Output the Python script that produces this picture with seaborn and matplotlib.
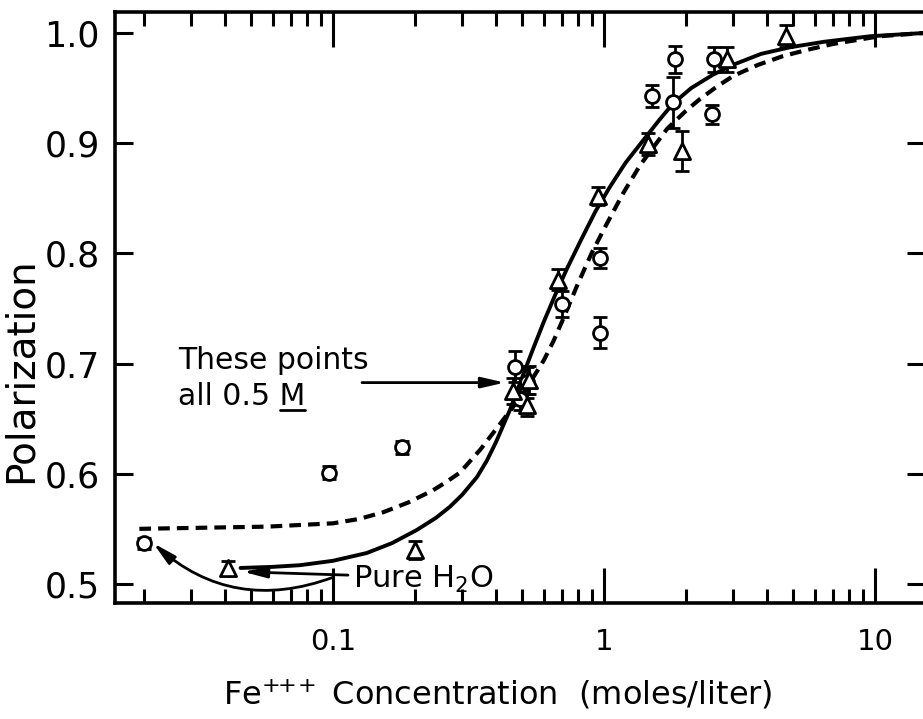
import numpy as np
import pandas as pd
import matplotlib
matplotlib.use("Agg")
import matplotlib.pyplot as plt
import seaborn as sns
from matplotlib.ticker import FixedLocator, FixedFormatter, LogLocator, NullFormatter
from matplotlib.lines import Line2D
from matplotlib.transforms import IdentityTransform

# ---------------- data ----------------
circ_x = [0.02, 0.097, 0.18, 0.47, 0.52, 0.49, 0.70, 0.97, 0.97, 1.50, 1.80, 1.83, 2.50, 2.55]
circ_y = [0.537, 0.601, 0.624, 0.697, 0.683, 0.668, 0.754, 0.728, 0.796, 0.943, 0.937, 0.976, 0.926, 0.976]
circ_e = [0.005, 0.006, 0.006, 0.014, 0.014, 0.010, 0.012, 0.014, 0.009, 0.010, 0.023, 0.012, 0.009, 0.011]

tri_x = [0.041, 0.20, 0.46, 0.53, 0.52, 0.676, 0.95, 1.45, 1.94, 2.84, 4.7]
tri_y = [0.5145, 0.531, 0.675, 0.685, 0.662, 0.776, 0.852, 0.899, 0.893, 0.976, 0.997]
tri_e = [0.006, 0.008, 0.012, 0.013, 0.010, 0.0095, 0.008, 0.010, 0.018, 0.011, 0.010]

solid_x = [0.0456, 0.06, 0.0755, 0.10, 0.133, 0.165, 0.204, 0.24, 0.27, 0.30, 0.34, 0.37,
           0.40, 0.45, 0.50, 0.547, 0.60, 0.66, 0.73, 0.83, 0.93, 1.05, 1.2, 1.39, 1.6,
           1.80, 2.1, 2.52, 2.99, 3.8, 4.86, 6.5, 9.6, 15.3]
solid_y = [0.5145, 0.5155, 0.517, 0.521, 0.528, 0.537, 0.549, 0.560, 0.570, 0.581, 0.597, 0.612,
           0.629, 0.658, 0.688, 0.713, 0.738, 0.762, 0.786, 0.814, 0.838, 0.860, 0.882, 0.902, 0.921,
           0.936, 0.950, 0.962, 0.971, 0.981, 0.987, 0.992, 0.997, 1.000]

dash_x = [0.0193, 0.0572, 0.10, 0.125, 0.153, 0.19, 0.234, 0.26, 0.294, 0.35, 0.413, 0.46,
          0.50, 0.55, 0.60, 0.65, 0.70, 0.80, 0.90, 1.0, 1.18, 1.36, 1.71, 2.0, 2.26, 2.6,
          3.0, 3.7, 4.58, 5.7, 7.0, 10.4, 15.3]
dash_y = [0.550, 0.552, 0.555, 0.559, 0.565, 0.574, 0.585, 0.592, 0.601, 0.622, 0.645, 0.660,
          0.672, 0.688, 0.703, 0.720, 0.738, 0.772, 0.800, 0.822, 0.855, 0.880, 0.913, 0.929, 0.940, 0.951,
          0.961, 0.971, 0.979, 0.985, 0.990, 0.997, 1.000]

x_ticks = [0.1, 1, 10]
x_tick_labels = ["0.1", "1", "10"]
y_ticks = [0.5, 0.6, 0.7, 0.8, 0.9, 1.0]
y_tick_labels = ["0.5", "0.6", "0.7", "0.8", "0.9", "1.0"]

x_label = r"Fe$^{+\!\!+\!\!+}$ Concentration  (moles/liter)"
y_label = "Polarization"

# ---------------- style ----------------
sns.set_theme(style="ticks")
plt.rcParams["font.family"] = ["DejaVu Sans"]
plt.rcParams["mathtext.default"] = "regular"

W, H = 923, 719
fig = plt.figure(figsize=(W / 100, H / 100), dpi=100)
fig.patch.set_facecolor("white")
ax = fig.add_axes([115 / W, 1 - 603 / H, 810 / W, 591 / H])
ax.set_facecolor("white")

ax.set_xscale("log")
ax.set_xlim(0.01569, 15.3)
ax.set_ylim(0.4827, 1.019)

# fitted curves
curves = pd.DataFrame({"x": solid_x, "y": solid_y})
sns.lineplot(data=curves, x="x", y="y", ax=ax, color="black", lw=2.8,
             estimator=None, sort=False, zorder=2)
dcurve = pd.DataFrame({"x": dash_x, "y": dash_y})
sns.lineplot(data=dcurve, x="x", y="y", ax=ax, color="black", lw=3.0,
             linestyle=(0, (2.8, 1.7)), estimator=None, sort=False, zorder=2)

# error bars
ax.errorbar(circ_x, circ_y, yerr=circ_e, fmt="none", ecolor="black",
            elinewidth=2, capsize=4.8, capthick=2, zorder=3)
ax.errorbar(tri_x, tri_y, yerr=tri_e, fmt="none", ecolor="black",
            elinewidth=2, capsize=4.8, capthick=2, zorder=3)

# markers
sns.scatterplot(x=circ_x, y=circ_y, ax=ax, marker="o", s=100,
                facecolor="white", edgecolor="black", linewidth=2, zorder=4)
sns.scatterplot(x=tri_x, y=tri_y, ax=ax, marker="^", s=135,
                facecolor="white", edgecolor="black", linewidth=2, zorder=4)

# axes, ticks
for sp in ax.spines.values():
    sp.set_linewidth(2.6)
    sp.set_color("black")
    sp.set_visible(True)

ax.xaxis.set_major_locator(FixedLocator(x_ticks))
ax.xaxis.set_major_formatter(FixedFormatter(x_tick_labels))
ax.xaxis.set_minor_locator(LogLocator(base=10, subs=np.arange(2, 10) * 1.0, numticks=30))
ax.xaxis.set_minor_formatter(NullFormatter())
ax.yaxis.set_major_locator(FixedLocator(y_ticks))
ax.yaxis.set_major_formatter(FixedFormatter(y_tick_labels))

ax.tick_params(which="both", direction="in", top=True, right=True,
               bottom=True, left=True, width=2.2, color="black", labelcolor="black")
ax.tick_params(axis="x", which="major", length=25, labelsize=21, pad=18)
ax.tick_params(axis="x", which="minor", length=10, width=2.2)
ax.tick_params(axis="y", which="major", length=13, labelsize=25, pad=11)

ax.set_xlabel(x_label, fontsize=23, color="black")
ax.xaxis.set_label_coords(0.473, -0.125)
ax.set_ylabel(y_label, fontsize=28, color="black")
ax.yaxis.set_label_coords(-0.093, 0.394)

# annotations
ax.text(0.0268, 0.695, "These points", fontsize=21.5, ha="left", va="baseline", color="black")
t_all = ax.text(0.0268, 0.6627, "all 0.5 M", fontsize=21.5, ha="left", va="baseline", color="black")
arrow_style = "-|>,head_length=0.7,head_width=0.16"
ax.annotate("", xy=(0.431, 0.6827), xytext=(0.128, 0.6827),
            arrowprops=dict(arrowstyle=arrow_style, lw=2, color="black",
                            mutation_scale=20, shrinkA=0, shrinkB=0))

ax.text(0.1186, 0.4964, "Pure H$_2$O", fontsize=22, ha="left", va="baseline", color="black")
ax.annotate("", xy=(0.0466, 0.511), xytext=(0.1136, 0.508),
            arrowprops=dict(arrowstyle=arrow_style, lw=2, color="black",
                            mutation_scale=20, shrinkA=0, shrinkB=0))
ax.annotate("", xy=(0.0217, 0.537), xytext=(0.1, 0.506),
            arrowprops=dict(arrowstyle=arrow_style, lw=2, color="black",
                            mutation_scale=20, shrinkA=0, shrinkB=0,
                            connectionstyle="arc3,rad=-0.3"))

# underline the "M"
fig.canvas.draw()
renderer = fig.canvas.get_renderer()
bb = t_all.get_window_extent(renderer)
tm = ax.text(0, 0, "M", fontsize=21.5, transform=IdentityTransform())
mb = tm.get_window_extent(renderer)
tm.remove()
base_y = ax.transData.transform((0.0268, 0.6627))[1]
fig.add_artist(Line2D([bb.x1 - mb.width, bb.x1], [base_y - 5, base_y - 5],
                      transform=IdentityTransform(), lw=2, color="black"))

fig.savefig("out.png", dpi=100, facecolor="white")
